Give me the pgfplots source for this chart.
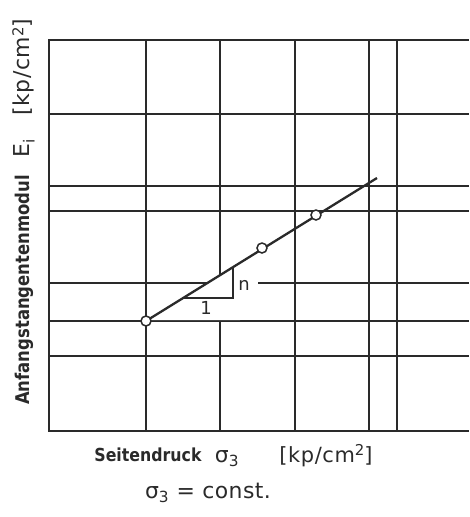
\documentclass[border=0pt]{standalone}
\usepackage{fontspec}
\setmainfont{DejaVu Sans}
\usepackage{graphicx}
\usepackage{pgfplots}
\pgfplotsset{compat=1.18}
\definecolor{ink}{HTML}{2A2A2A}
\newcommand\reg[2]{\fontsize{#1}{#1}\selectfont\addfontfeature{LetterSpace=#2}}
\newcommand\bld[2]{\bfseries\fontsize{#1}{#1}\selectfont\addfontfeature{LetterSpace=#2}}
\newcommand\sq{\raisebox{0.55ex}{\fontsize{15}{15}\selectfont 2}}
\begin{document}
\begin{tikzpicture}
\begin{axis}[
  scale only axis, width=420bp, height=391bp,
  xmin=49, xmax=469, ymin=40, ymax=431, y dir=reverse,
  axis line style={draw=none},
  xtick={146,220,295,369,397}, ytick={114,186,211,283,321,356},
  xticklabel=\empty, yticklabel=\empty, major tick length=0pt,
  grid=major, grid style={ink, line width=1.5bp},
  clip=false,
]
\path (axis cs:0,0) rectangle (axis cs:469,517);
% frame (no right edge visible)
\addplot[ink, line width=1.8bp] coordinates {(469,40) (49,40) (49,431) (469,431)};
% white gap around slope triangle
\addplot[fill=white, draw=none] coordinates {(151,320) (237,265) (258,265) (258,300) (240,320)} -- cycle;
% slope triangle
\addplot[ink, line width=1.4bp] coordinates {(183,298) (233,298) (233,267)};
% regression line
\addplot[ink, line width=2.3bp] coordinates {(146,321) (377,178)};
% measured points
\addplot[only marks, mark=*, mark size=5bp, mark options={fill=white, draw=ink, line width=1.5bp}]
  coordinates {(146,321) (262,248) (316,215)};
\node[font=\reg{18}{0}, text=ink, anchor=base] at (axis cs:244,290) {n};
\node[font=\reg{18}{0}, text=ink, anchor=base] at (axis cs:206,314) {1};
% axis labels
\node[rotate=90, font=\bld{19}{0}, text=ink, anchor=base] at (axis cs:30,290) {\scalebox{0.87}[1]{Anfangstangentenmodul}};
\node[rotate=90, font=\reg{22}{3}, text=ink, anchor=base] at (axis cs:30,88) {E\textsubscript{i}\ \ \ [kp/cm\sq]};
\node[font=\bld{18}{0}, text=ink, anchor=base] at (axis cs:148,461) {\scalebox{0.88}[1]{Seitendruck}};
\node[font=\reg{22}{0}, text=ink, anchor=base] at (axis cs:227,462) {σ\textsubscript{3}};
\node[font=\reg{21}{3}, text=ink, anchor=base] at (axis cs:326,462) {[kp/cm\sq]};
\node[font=\reg{22}{2}, text=ink, anchor=base] at (axis cs:208,498) {σ\textsubscript{3}\ = const.};
\end{axis}
\end{tikzpicture}
\end{document}
